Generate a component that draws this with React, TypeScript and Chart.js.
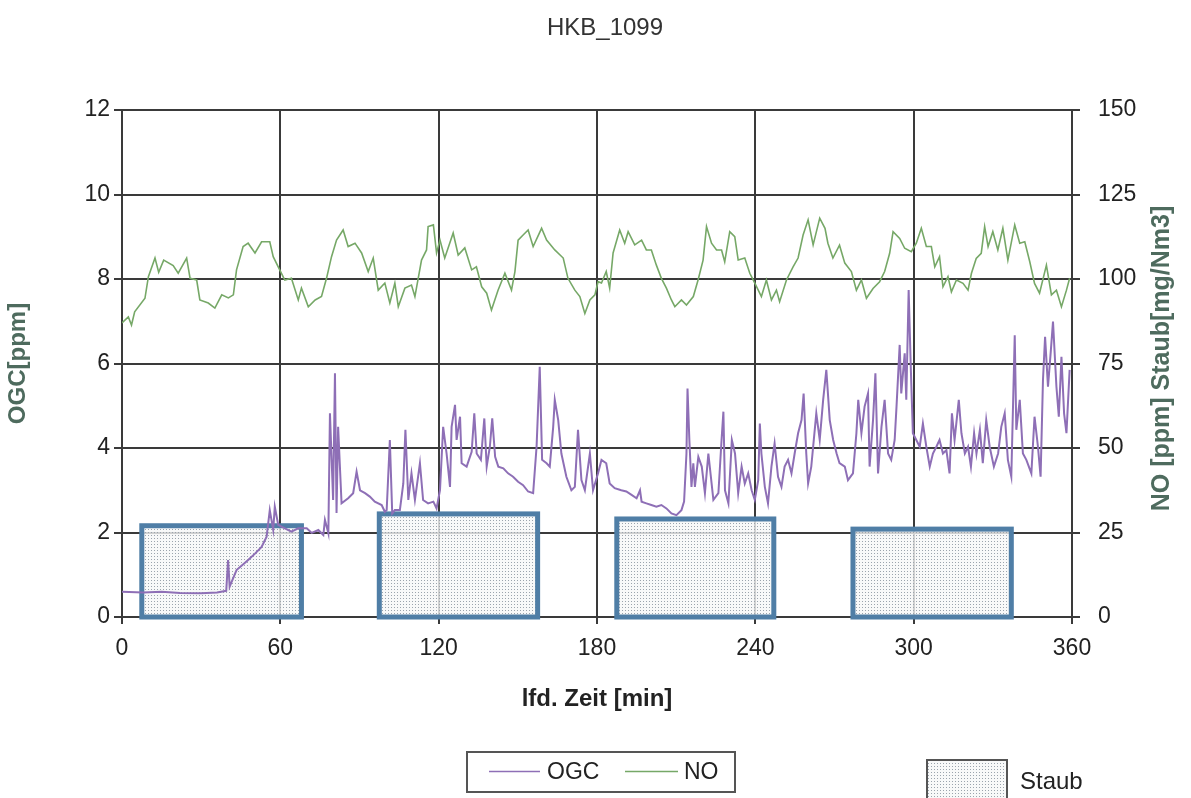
import React, { useEffect, useRef } from 'react';
import { Chart, registerables } from 'chart.js';

Chart.register(...registerables);

const chartTitle = 'HKB_1099';
const xAxisTitle = 'lfd. Zeit [min]';
const leftAxisTitle = 'OGC[ppm]';
const rightAxisTitle = 'NO [ppm] Staub[mg/Nm3]';

const xMin = 0;
const xMax = 360;
const xStep = 60;
const leftMax = 12;
const leftStep = 2;
const rightMax = 150;
const rightStep = 25;

// OGC [ppm] (left axis)
const ogcTime = [
  0, 8, 15, 22, 30, 36, 39.5, 40.2, 40.8, 43.4, 47.8, 50.4, 52.9, 54.8, 56, 57.3, 57.9, 59.2, 61.7, 64.2,
  66.8, 70, 71.9, 74.4, 76.3, 76.9, 78.2, 78.8, 80, 80.7, 81.3, 81.9, 83.2, 85.7, 87.6, 88.9, 90.2, 92.1, 93.9, 95.8,
  98.4, 99.6, 100.3, 101.5, 102.4, 103.4, 105.3, 106.6, 107.4, 108.5, 109.7, 111, 112.9, 114.1, 116, 118, 119.2, 120.5, 121.7, 123,
  124.3, 124.9, 126.2, 126.8, 128.1, 128.7, 130.6, 132.5, 133.5, 134.4, 136, 137.3, 138.2, 139.4, 140.3, 141.4, 142.6, 144.5, 146.3, 148.2,
  150.1, 152, 153.9, 155.8, 157.1, 158.3, 159.2, 160.9, 162.1, 163.4, 164, 165.3, 166.5, 168.4, 170.3, 171.6, 172.8, 174.1, 175.4, 177.3,
  178.5, 180.4, 181.7, 183.5, 184.8, 186.7, 189.2, 191.1, 193.1, 195, 196.3, 196.9, 198.7, 200.6, 202.5, 204.4, 206.3, 208.2, 210.1, 212,
  213, 213.9, 214.3, 215, 215.8, 216.5, 217.1, 218.4, 219.7, 220.9, 222.2, 224.1, 226, 227.2, 227.9, 228.5, 229.8, 231.1, 232.3, 233.5,
  234.8, 236, 237.3, 238.6, 239.8, 241.1, 241.7, 242.3, 243.6, 244.8, 246.1, 247.3, 248.6, 249.9, 251.1, 252.4, 253.7, 254.9, 256.2, 257.5,
  258.3, 259.3, 260, 261.2, 263.1, 264.4, 265.7, 266.9, 268.2, 269.5, 270.8, 271.9, 273.9, 275.1, 277, 278.3, 279, 280.2, 281.4, 282.7,
  283.3, 284.6, 285.5, 286.5, 287.8, 289, 290.3, 291.5, 292.8, 293.5, 294.7, 295.3, 296.6, 297.2, 298.1, 298.9, 299.7, 301, 302.3, 303.5,
  304.8, 306.1, 307.3, 308.6, 309.8, 311.1, 312.4, 313.6, 314.5, 315.5, 317.1, 318.1, 319.4, 320.6, 321.7, 322.9, 323.8, 325.1, 326.2, 327.5,
  328.8, 330.4, 332, 333.2, 334.5, 335.7, 337, 338.3, 338.9, 340.2, 341.4, 342.7, 344.6, 345.8, 347.1, 348.1, 349, 349.8, 350.9, 351.9,
  352.8, 354.1, 355, 356, 357, 357.9, 359.1,
];
const ogcValue = [
  0.6, 0.58, 0.6, 0.57, 0.56, 0.58, 0.62, 1.35, 0.72, 1.11, 1.35, 1.5, 1.66, 1.9, 2.53, 2.06, 2.61, 2.18, 2.1, 2.02,
  2.1, 2.1, 1.99, 2.06, 1.94, 2.3, 1.98, 4.82, 2.77, 5.77, 2.46, 4.5, 2.69, 2.81, 2.93, 3.44, 3.0, 2.93, 2.85, 2.73,
  2.65, 2.49, 2.53, 4.19, 2.45, 2.53, 2.53, 3.16, 4.43, 2.77, 3.4, 2.77, 3.64, 2.77, 2.69, 2.73, 2.57, 3.0, 4.5, 3.87,
  3.08, 4.5, 5.02, 4.19, 4.74, 3.64, 3.56, 3.91, 4.82, 3.87, 3.72, 4.7, 3.56, 4.03, 4.7, 3.79, 3.56, 3.52, 3.4, 3.32,
  3.2, 3.12, 2.97, 2.93, 4.03, 5.92, 3.72, 3.64, 3.56, 4.5, 5.14, 4.66, 3.87, 3.32, 3.0, 3.08, 4.43, 3.24, 3.0, 3.87,
  3.0, 3.4, 3.72, 3.64, 3.16, 3.05, 3.0, 2.97, 2.89, 2.81, 3.0, 2.73, 2.69, 2.65, 2.61, 2.65, 2.57, 2.45, 2.41, 2.53,
  2.73, 3.87, 5.41, 4.19, 3.08, 3.64, 3.08, 3.79, 3.56, 2.93, 3.87, 2.77, 2.93, 4.19, 4.86, 3.0, 2.69, 4.19, 3.87, 2.93,
  3.56, 3.16, 3.4, 3.0, 2.77, 3.24, 4.58, 3.87, 3.08, 2.69, 3.56, 4.11, 3.32, 3.08, 3.56, 3.72, 3.4, 3.87, 4.35, 4.66,
  5.29, 3.87, 3.16, 3.56, 4.82, 4.19, 5.14, 5.85, 4.66, 4.19, 3.87, 3.64, 3.56, 3.24, 3.4, 4.35, 5.14, 4.35, 4.98, 5.29,
  3.56, 4.66, 5.77, 3.4, 4.5, 5.14, 3.87, 3.72, 4.19, 4.98, 6.44, 5.29, 6.24, 5.14, 7.74, 5.92, 4.35, 4.19, 4.03, 4.58,
  4.03, 3.56, 3.87, 4.03, 4.19, 3.87, 3.95, 3.4, 4.82, 4.19, 5.14, 4.35, 3.87, 4.03, 3.56, 4.35, 3.87, 4.43, 3.64, 4.66,
  4.03, 3.56, 3.87, 4.5, 4.82, 3.72, 3.32, 6.67, 4.43, 5.14, 3.87, 3.72, 3.4, 4.74, 4.03, 3.32, 5.61, 6.63, 5.45, 6.24,
  6.99, 5.45, 4.74, 6.16, 4.82, 4.35, 5.85,
];

// NO [ppm] (right axis)
const noTime = [
  0, 2.4, 3.6, 4.8, 8.7, 10, 12.5, 13.9, 15.8, 19.4, 21.3, 24.5, 25.8, 28.3, 29.5, 32.7, 35.2, 37.8, 40.3, 42.2,
  43.4, 45.9, 47.8, 50.4, 52.9, 56, 57.3, 59.2, 61.7, 64.2, 66.8, 68, 70.6, 73.2, 75.6, 77.5, 79.4, 81.3, 83.8, 85.7,
  88.3, 90.8, 93.3, 95.2, 97.1, 99.6, 101.5, 103.4, 104.7, 107.2, 109.7, 111, 113.5, 115.4, 116, 118, 119.2, 120.5, 122.3, 125.5,
  127.4, 129.9, 132.5, 134.3, 136.3, 138.2, 140, 142.5, 145.1, 147.6, 148.9, 150.1, 152, 153.9, 155.8, 159, 160.9, 164, 167.2, 169,
  171.6, 173.5, 175.4, 177.3, 179.2, 180.4, 181.7, 183.5, 184.8, 186.1, 188.6, 190.5, 191.8, 194.3, 196.9, 198.7, 200.6, 202.5, 204.4, 206.3,
  208.2, 209.5, 212, 213.9, 216.5, 218.3, 220.2, 221.5, 223.4, 225.3, 227.2, 228.4, 230.3, 232.2, 233.5, 236, 237.9, 239.8, 242.3, 244.2,
  246.1, 248, 249.2, 251.8, 254.3, 256.2, 258.1, 260, 261.9, 264.4, 266.4, 267.5, 269.4, 271.9, 273.9, 276.4, 278.3, 280.2, 282.1, 284.6,
  287.1, 289, 290.9, 292.2, 294.7, 296.6, 299.1, 301, 302.9, 304.8, 306.7, 308, 309.8, 311.1, 313, 314.3, 316.2, 318.7, 320.6, 321.9,
  323.7, 325.6, 326.9, 328.2, 330, 331.9, 333.8, 335.7, 338.3, 340.2, 342.1, 344, 345.8, 347.7, 350.3, 352.2, 354.1, 356, 357.9, 359.1,
];
const noValue = [
  87, 88.8, 86.4, 90.3, 94.3, 100.7, 106.2, 102, 105.6, 104, 101.7, 106.2, 100.2, 99.7, 93.8, 92.9, 91.4, 95.3, 94.4, 95.3,
  102.7, 109.6, 110.6, 107.7, 111, 111, 106.6, 103.6, 99.7, 100.2, 93.8, 97.3, 91.8, 93.8, 94.8, 100.2, 106.6, 111.5, 114.5, 109.6,
  110.6, 107.7, 102.2, 106.2, 96.7, 98.8, 92.9, 98.8, 91.8, 97.3, 98.2, 94.8, 105.6, 108.6, 115.5, 116, 107.7, 111.5, 106.2, 113.6,
  107.1, 109.2, 102.7, 103.6, 97.7, 95.8, 90.8, 96.7, 101.7, 96.7, 102.2, 111.5, 113, 114.5, 109.6, 115, 111.5, 108.6, 106.2, 100.2,
  96.7, 94.8, 89.8, 93.8, 95.3, 99.2, 98.8, 102.2, 97.3, 107.7, 114.5, 110.6, 114, 110.1, 111.5, 108.6, 108.6, 104.1, 100.2, 97.3,
  93.8, 91.8, 93.8, 92.3, 94.8, 99.7, 105.6, 115.5, 110.6, 108.6, 108.6, 105.1, 114, 112.5, 105.6, 106.2, 101.7, 98.8, 94.8, 99.7,
  93.8, 96.7, 93.3, 99.7, 103.6, 106.2, 113, 117.5, 110.1, 118, 115, 110.6, 106.2, 110, 104.7, 102.2, 96.7, 99.7, 94.3, 97.2,
  99.2, 102.2, 107.6, 114, 112, 109.1, 108.1, 110.6, 115, 109.6, 109.6, 103.6, 106.6, 97.7, 100.7, 96.2, 99.7, 98.7, 96.7, 101.7,
  106.1, 107.6, 115.5, 109.6, 114, 108.6, 115, 105.6, 116, 110.6, 111, 105.1, 98.7, 95.8, 104.1, 95.3, 96.7, 91.8, 96.7, 100.2,
];

// Staub [mg/Nm3] (right axis): measurement periods
const staubStart = [7.5, 97.5, 187.5, 277];
const staubEnd = [68, 157.5, 247, 337];
const staubValue = [27, 30.5, 29, 26];

const FONT = "'Liberation Sans', Arial, sans-serif";
const OGC_COLOR = '#8e6fb6';
const NO_COLOR = '#76a867';
const BOX_COLOR = '#4f7ea6';
const GRID_COLOR = '#3a3a3a';
const AXIS_TITLE_COLOR = '#4e6b5e';

export default function App() {
  const ref = useRef<HTMLCanvasElement>(null);

  useEffect(() => {
    const canvas = ref.current;
    if (!canvas) return;

    const pc = document.createElement('canvas');
    pc.width = 3;
    pc.height = 3;
    const pctx = pc.getContext('2d')!;
    pctx.fillStyle = 'rgba(246,247,248,0.8)';
    pctx.fillRect(0, 0, 3, 3);
    pctx.fillStyle = '#9ba4ad';
    pctx.fillRect(1, 1, 1, 1);
    const pattern = canvas.getContext('2d')!.createPattern(pc, 'repeat')!;

    const staubPlugin = {
      id: 'staubBoxes',
      beforeDatasetsDraw(chart: any) {
        const { ctx, scales } = chart;
        const xs = scales.x;
        const ys = scales.y2;
        ctx.save();
        staubStart.forEach((s, i) => {
          const x0 = xs.getPixelForValue(s);
          const x1 = xs.getPixelForValue(staubEnd[i]);
          const yt = ys.getPixelForValue(staubValue[i]);
          const yb = ys.getPixelForValue(0);
          ctx.fillStyle = pattern;
          ctx.fillRect(x0, yt, x1 - x0, yb - yt);
          ctx.strokeStyle = BOX_COLOR;
          ctx.lineWidth = 5;
          ctx.strokeRect(x0, yt, x1 - x0, yb - yt);
        });
        ctx.restore();
      },
    };

    const decoPlugin = {
      id: 'deco',
      afterDraw(chart: any) {
        const { ctx, chartArea } = chart;
        ctx.save();
        // title
        ctx.fillStyle = '#333';
        ctx.font = `24px ${FONT}`;
        ctx.textAlign = 'center';
        ctx.textBaseline = 'middle';
        ctx.fillText(chartTitle, 605, 28);

        // right axis title (reads bottom to top)
        ctx.save();
        ctx.translate(1162, (chartArea.top + chartArea.bottom) / 2 - 5);
        ctx.rotate(-Math.PI / 2);
        ctx.fillStyle = AXIS_TITLE_COLOR;
        ctx.font = `bold 25px ${FONT}`;
        ctx.fillText(rightAxisTitle, 0, 0);
        ctx.restore();

        // legend OGC / NO
        ctx.strokeStyle = '#555';
        ctx.lineWidth = 2;
        ctx.strokeRect(467, 752, 268, 40);
        ctx.lineWidth = 1.5;
        ctx.strokeStyle = OGC_COLOR;
        ctx.beginPath();
        ctx.moveTo(489, 771.5);
        ctx.lineTo(540, 771.5);
        ctx.stroke();
        ctx.strokeStyle = NO_COLOR;
        ctx.beginPath();
        ctx.moveTo(625, 771.5);
        ctx.lineTo(678, 771.5);
        ctx.stroke();
        ctx.fillStyle = '#222';
        ctx.font = `23px ${FONT}`;
        ctx.textAlign = 'left';
        ctx.fillText('OGC', 547, 773);
        ctx.fillText('NO', 684, 773);

        // legend Staub
        ctx.fillStyle = pattern;
        ctx.fillRect(927, 760, 80, 45);
        ctx.strokeStyle = '#555';
        ctx.lineWidth = 2;
        ctx.strokeRect(927, 760, 80, 45);
        ctx.fillStyle = '#222';
        ctx.font = `24px ${FONT}`;
        ctx.fillText('Staub', 1020, 782);
        ctx.restore();
      },
    };

    const tickFont = { family: FONT, size: 23 };
    const chart = new Chart(canvas, {
      type: 'line',
      data: {
        datasets: [
          {
            label: 'OGC',
            data: ogcTime.map((t, i) => ({ x: t, y: ogcValue[i] })),
            yAxisID: 'y',
            borderColor: OGC_COLOR,
            borderWidth: 2,
            pointRadius: 0,
            tension: 0,
            fill: false,
          },
          {
            label: 'NO',
            data: noTime.map((t, i) => ({ x: t, y: noValue[i] })),
            yAxisID: 'y2',
            borderColor: NO_COLOR,
            borderWidth: 1.6,
            pointRadius: 0,
            tension: 0,
            fill: false,
          },
        ],
      },
      options: {
        animation: false,
        responsive: false,
        maintainAspectRatio: false,
        layout: { padding: { top: 110, left: 0, right: 0, bottom: 0 } },
        plugins: {
          legend: { display: false },
          title: { display: false },
          tooltip: { enabled: false },
        },
        scales: {
          x: {
            type: 'linear',
            min: xMin,
            max: xMax,
            ticks: { stepSize: xStep, font: tickFont, color: '#222', padding: 11, maxRotation: 0 },
            grid: { color: GRID_COLOR, lineWidth: 2, tickLength: 7 },
            border: { color: GRID_COLOR, width: 2 },
            title: {
              display: true,
              text: xAxisTitle,
              color: '#222',
              font: { family: FONT, size: 24, weight: 'bold' },
              padding: { top: 0, bottom: 84 },
            },
            afterFit: (s: any) => {
              s.height = 181;
            },
          },
          y: {
            position: 'left',
            min: 0,
            max: leftMax,
            ticks: { stepSize: leftStep, font: tickFont, color: '#222', padding: 4 },
            grid: { color: GRID_COLOR, lineWidth: 2, tickLength: 8 },
            border: { color: GRID_COLOR, width: 2 },
            title: {
              display: true,
              text: leftAxisTitle,
              color: AXIS_TITLE_COLOR,
              font: { family: FONT, size: 24, weight: 'bold' },
              padding: { top: 4, bottom: 0 },
            },
            afterFit: (s: any) => {
              s.width = 122;
            },
          },
          y2: {
            position: 'right',
            min: 0,
            max: rightMax,
            ticks: { stepSize: rightStep, font: tickFont, color: '#222', padding: 18 },
            grid: { drawOnChartArea: false, color: GRID_COLOR, lineWidth: 2, tickLength: 8 },
            border: { color: GRID_COLOR, width: 2 },
            afterFit: (s: any) => {
              s.width = 119;
            },
          },
        },
      } as any,
      plugins: [staubPlugin, decoPlugin],
    });

    return () => chart.destroy();
  }, []);

  return (
    <div style={{ position: 'absolute', left: 0, top: 0, width: 1191, height: 798, background: '#fff' }}>
      <canvas ref={ref} width={1191} height={798} style={{ display: 'block', width: 1191, height: 798 }} />
    </div>
  );
}
